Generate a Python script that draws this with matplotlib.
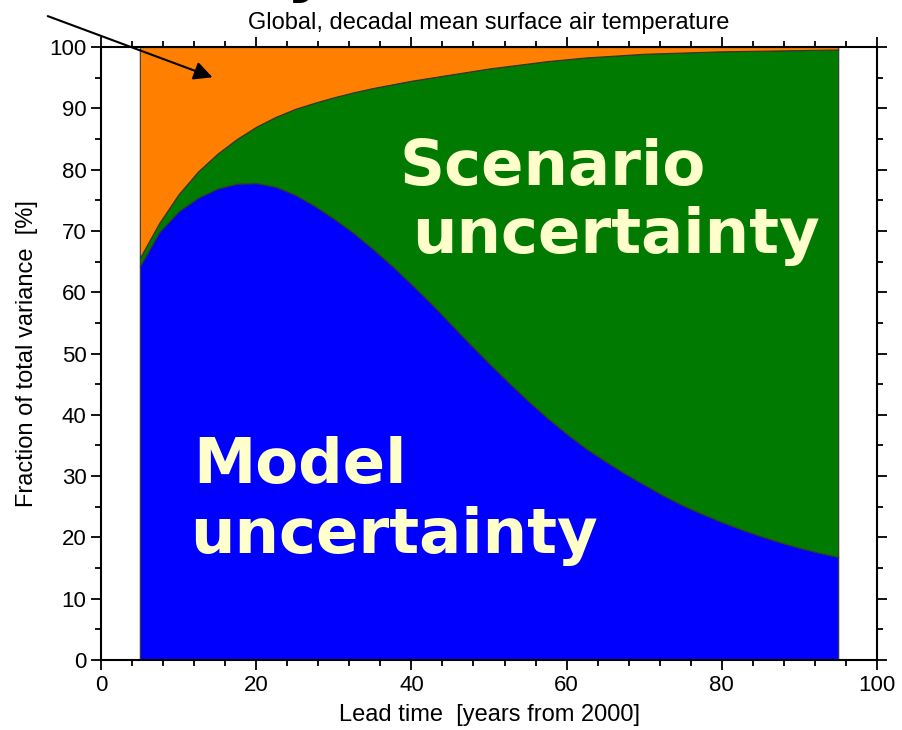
import matplotlib
matplotlib.use('Agg')
import matplotlib.pyplot as plt
from matplotlib.ticker import MultipleLocator

# lead time (years from 2000)
lead_time = [5, 7.5, 10, 12.5, 15, 17.5, 20, 22.5, 25, 27.5, 30, 32.5, 35,
             37.5, 40, 42.5, 45, 47.5, 50, 52.5, 55, 57.5, 60, 62.5, 65,
             67.5, 70, 72.5, 75, 77.5, 80, 82.5, 85, 87.5, 90, 92.5, 95]
# fraction of total variance [%] due to model uncertainty
model_frac = [64.2, 69.8, 73.2, 75.4, 76.9, 77.7, 77.8, 77.2, 75.9, 74.1,
              72.0, 69.7, 67.1, 64.3, 61.3, 58.2, 54.9, 51.6, 48.4, 45.3,
              42.3, 39.5, 36.9, 34.5, 32.4, 30.4, 28.6, 26.8, 25.2, 23.8,
              22.5, 21.3, 20.2, 19.2, 18.3, 17.5, 16.8]
# model + scenario uncertainty (top of the green band)
total_frac = [65.6, 71.3, 76.0, 79.7, 82.6, 85.0, 87.0, 88.6, 89.9, 90.9,
              91.8, 92.6, 93.3, 93.9, 94.5, 95.0, 95.5, 96.0, 96.5, 96.9,
              97.3, 97.7, 98.0, 98.3, 98.5, 98.7, 98.9, 99.0, 99.1, 99.2,
              99.3, 99.35, 99.4, 99.45, 99.5, 99.55, 99.6]
scenario_frac = [t - m for t, m in zip(total_frac, model_frac)]
internal_frac = [100 - t for t in total_frac]

colors = ['#0000FF', '#007A00', '#FF8000']
label_color = '#FFFFCC'

plt.rcParams['font.family'] = ['Liberation Sans', 'DejaVu Sans']

fig = plt.figure(figsize=(9.02, 7.30), dpi=100)
ax = fig.add_axes([0.112, 0.0959, 0.8603, 0.8397])

ax.stackplot(lead_time, model_frac, scenario_frac, internal_frac,
             colors=colors, edgecolor='#333333', linewidth=0.8)

ax.set_xlim(0, 100)
ax.set_ylim(0, 100)
ax.xaxis.set_major_locator(MultipleLocator(20))
ax.xaxis.set_minor_locator(MultipleLocator(4))
ax.yaxis.set_major_locator(MultipleLocator(10))
ax.yaxis.set_minor_locator(MultipleLocator(5))
ax.tick_params(which='both', direction='out', top=True, right=True,
               labelsize=16, width=1.3)
ax.tick_params(which='major', length=7)
ax.tick_params(which='minor', length=4)
for sp in ax.spines.values():
    sp.set_linewidth(1.5)

ax.set_xlabel('Lead time  [years from 2000]', fontsize=17, labelpad=6)
ax.set_ylabel('Fraction of total variance  [%]', fontsize=17, labelpad=8)
ax.set_title('Global, decadal mean surface air temperature', fontsize=17,
             pad=13)

big = dict(color=label_color, fontsize=45, fontweight='bold',
           family='DejaVu Sans', va='baseline', ha='left')
ax.text(38.5, 77.5, 'Scenario', **big)
ax.text(40.1, 66.4, 'uncertainty', **big)
ax.text(11.9, 28.9, 'Model', **big)
ax.text(11.5, 17.5, 'uncertainty', **big)

# arrow pointing at the internal variability band
ax.annotate('', xy=(14.7, 94.9), xytext=(-7.2, 105.2),
            arrowprops=dict(arrowstyle='-|>', color='black', lw=1.5,
                            mutation_scale=28),
            annotation_clip=False)

# label cut off at the top of the figure (only the descender shows)
fig.text(0.364, 1.0155, 'Internal variability', fontsize=46,
         fontweight='bold', family='DejaVu Sans', ha='right', va='baseline')

fig.savefig('out.png', dpi=100)
